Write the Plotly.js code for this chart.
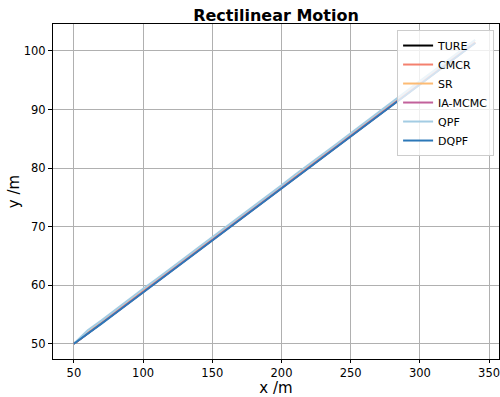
<!DOCTYPE html>
<html>
<head>
<meta charset="utf-8">
<script src="https://cdn.plot.ly/plotly-3.0.1.min.js"></script>
<style>html,body{margin:0;padding:0;background:#fff;}#chart{width:500px;height:397px;}</style>
</head>
<body>
<div id="chart"></div>
<script>
const seriesNames = ["TURE", "CMCR", "SR", "IA-MCMC", "QPF", "DQPF"];
const xs = [50,60,70,80,90,100,110,120,130,140,150,160,170,180,190,200,210,220,230,240,250,260,270,280,290,300,310,320,330,340];
const ture = [50.0,51.77,53.55,55.32,57.10,58.87,60.64,62.42,64.19,65.97,67.74,69.51,71.29,73.06,74.84,76.61,78.38,80.16,81.93,83.71,85.48,87.25,89.03,90.80,92.58,94.35,96.12,97.90,99.67,101.45];
const cmcr = [50.0,51.85,53.62,55.30,57.18,58.95,60.70,62.45,64.25,66.02,67.80,69.55,71.35,73.10,74.90,76.66,78.45,80.20,81.98,83.78,85.55,87.30,89.10,90.85,92.63,94.40,96.18,97.95,99.72,101.50];
const sr = [50.0,51.90,53.70,55.40,57.20,58.98,60.75,62.50,64.30,66.05,67.85,69.60,71.40,73.15,74.95,76.70,78.50,80.25,82.02,83.80,85.58,87.35,89.12,90.90,92.68,94.45,96.22,98.00,99.78,101.55];
const iamcmc = [50.0,51.70,53.50,55.28,57.05,58.82,60.60,62.38,64.15,65.92,67.70,69.48,71.25,73.02,74.80,76.58,78.35,80.12,81.90,83.68,85.45,87.22,89.00,90.78,92.60,94.32,96.10,97.88,99.65,101.42];
const qpf = [50.0,52.30,54.00,55.85,57.55,59.40,61.10,62.95,64.65,66.45,68.20,69.95,71.80,73.50,75.35,77.05,78.90,80.60,82.45,84.15,85.95,87.75,89.50,91.30,93.05,94.85,96.60,98.40,100.15,101.90];
const dqpf = [50.0,51.65,53.45,55.20,56.98,58.75,60.55,62.30,64.08,65.85,67.62,69.40,71.18,72.95,74.72,76.50,78.27,80.05,81.82,83.60,85.37,87.15,88.92,90.70,92.47,94.25,96.02,97.80,99.57,101.35];
const colors = ["#000000", "#F4806E", "#FDBB73", "#C2619B", "#A3CCE3", "#2C78B8"];
const allY = [ture, cmcr, sr, iamcmc, qpf, dqpf];

const traces = seriesNames.map((n, i) => ({
  x: xs, y: allY[i], type: "scatter", mode: "lines", name: n,
  line: {color: colors[i], width: 2}
}));

const layout = {
  width: 500, height: 397,
  margin: {l: 53, r: 1, t: 24, b: 38},
  paper_bgcolor: "#fff", plot_bgcolor: "#fff",
  font: {family: "DejaVu Sans", size: 11.5, color: "#000"},
  title: {text: "<b>Rectilinear Motion</b>", x: 0.552, xanchor: "center", y: 0.962, yanchor: "middle", font: {size: 16, family: "DejaVu Sans"}},
  xaxis: {
    range: [34.9, 357.2], tickvals: [50,100,150,200,250,300,350],
    showgrid: true, gridcolor: "#b0b0b0", gridwidth: 1,
    showline: true, linecolor: "#000", linewidth: 1, mirror: true,
    ticks: "outside", ticklen: 3, tickcolor: "#000", zeroline: false,
    tickfont: {size: 11.5}, ticklabeloverflow: "allow", automargin: false,
    title: {text: "x /m", font: {size: 15}, standoff: 0}
  },
  yaxis: {
    range: [47.4, 104.6], tickvals: [50,60,70,80,90,100],
    showgrid: true, gridcolor: "#b0b0b0", gridwidth: 1,
    showline: true, linecolor: "#000", linewidth: 1, mirror: true,
    ticks: "outside", ticklen: 4, tickcolor: "#000", zeroline: false,
    tickfont: {size: 11.5}, automargin: false,
    title: {text: "y /m", font: {size: 15}, standoff: 0}
  },
  legend: {
    x: 0.989, xanchor: "right", y: 0.982, yanchor: "top",
    bgcolor: "rgba(255,255,255,0.8)", bordercolor: "#cccccc", borderwidth: 1,
    font: {size: 11}, tracegroupgap: 0, itemwidth: 30
  },
  showlegend: true
};
Plotly.newPlot("chart", traces, layout, {displayModeBar: false, staticPlot: true});
</script>
</body>
</html>
